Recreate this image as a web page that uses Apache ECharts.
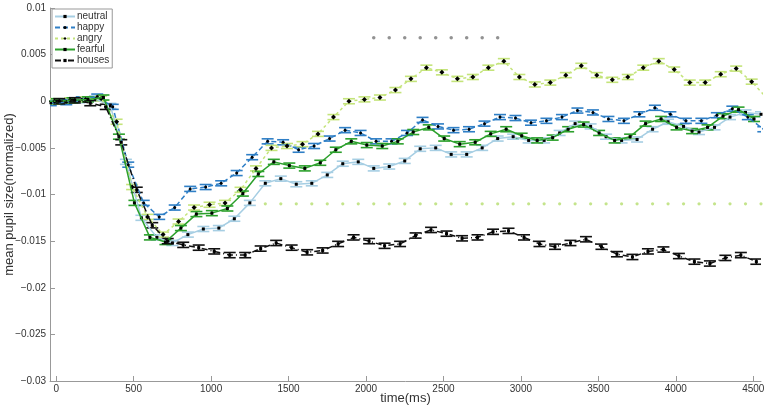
<!DOCTYPE html>
<html><head><meta charset="utf-8">
<script src="https://cdn.jsdelivr.net/npm/echarts@6/dist/echarts.min.js"></script>
<style>html,body{margin:0;padding:0;background:#fff}#c{width:767px;height:412px}</style>
</head><body><div id="c"></div>
<script>
// bin start times (ms); each condition is plotted with its own small time offset
const binStart = [-100,0,100,200,300,400,500,600,700,800,900,1000,1100,1200,1300,1400,1500,1600,1700,1800,1900,2000,2100,2200,2300,2400,2500,2600,2700,2800,2900,3000,3100,3200,3300,3400,3500,3600,3700,3800,3900,4000,4100,4200,4300,4400,4500];
const offsetNeutral = 50, offsetHappy = 65, offsetAngry = 90, offsetFearful = 5, offsetHouses = 20;

const neutral = [0.0000,0.0000,0.0001,0.0003,-0.0005,-0.0065,-0.0125,-0.0146,-0.0152,-0.0143,-0.0137,-0.0136,-0.0126,-0.0109,-0.0088,-0.0083,-0.0089,-0.0088,-0.0079,-0.0067,-0.0065,-0.0072,-0.0070,-0.0064,-0.0051,-0.0050,-0.0057,-0.0057,-0.0050,-0.0040,-0.0038,-0.0042,-0.0042,-0.0034,-0.0024,-0.0027,-0.0038,-0.0042,-0.0041,-0.0030,-0.0022,-0.0027,-0.0033,-0.0028,-0.0017,-0.0012,-0.0014];
const happy = [-0.0002,-0.0001,0.0002,0.0005,-0.0006,-0.0068,-0.0109,-0.0124,-0.0114,-0.0094,-0.0092,-0.0088,-0.0077,-0.0060,-0.0043,-0.0044,-0.0052,-0.0048,-0.0040,-0.0031,-0.0034,-0.0043,-0.0043,-0.0034,-0.0020,-0.0027,-0.0031,-0.0030,-0.0024,-0.0017,-0.0018,-0.0023,-0.0021,-0.0017,-0.0010,-0.0012,-0.0019,-0.0021,-0.0014,-0.0007,-0.0014,-0.0021,-0.0021,-0.0015,-0.0008,-0.0017,-0.0030];
const angry = [0.0000,0.0001,0.0002,0.0003,-0.0022,-0.0092,-0.0124,-0.0143,-0.0129,-0.0114,-0.0111,-0.0109,-0.0095,-0.0072,-0.0050,-0.0048,-0.0046,-0.0035,-0.0017,0.0000,0.0002,0.0004,0.0012,0.0024,0.0036,0.0031,0.0024,0.0026,0.0036,0.0043,0.0026,0.0018,0.0020,0.0028,0.0038,0.0028,0.0023,0.0026,0.0036,0.0043,0.0034,0.0020,0.0020,0.0029,0.0035,0.0021,0.0003];
const fearful = [0.0000,0.0000,0.0001,0.0002,0.0004,-0.0038,-0.0109,-0.0146,-0.0151,-0.0136,-0.0121,-0.0120,-0.0115,-0.0099,-0.0078,-0.0065,-0.0069,-0.0072,-0.0066,-0.0052,-0.0043,-0.0047,-0.0048,-0.0043,-0.0033,-0.0028,-0.0040,-0.0046,-0.0044,-0.0035,-0.0030,-0.0037,-0.0042,-0.0039,-0.0030,-0.0025,-0.0034,-0.0042,-0.0038,-0.0024,-0.0019,-0.0028,-0.0032,-0.0028,-0.0016,-0.0009,-0.0019];
const houses = [0.0000,0.0000,0.0001,-0.0002,-0.0006,-0.0044,-0.0095,-0.0133,-0.0150,-0.0154,-0.0157,-0.0161,-0.0165,-0.0165,-0.0158,-0.0152,-0.0157,-0.0162,-0.0160,-0.0153,-0.0146,-0.0150,-0.0155,-0.0153,-0.0144,-0.0138,-0.0142,-0.0147,-0.0146,-0.0140,-0.0139,-0.0146,-0.0153,-0.0156,-0.0152,-0.0148,-0.0156,-0.0164,-0.0167,-0.0161,-0.0159,-0.0166,-0.0172,-0.0174,-0.0168,-0.0165,-0.0172];

// half-height of the error bars (SEM)
const errNeutral = 0.00027, errHappy = 0.00027, errAngry = 0.00027, errFearful = 0.00027, errHouses = 0.00028;

// significance markers
const starTimes = [2050,2150,2250,2350,2450,2550,2650,2750,2850];
const starLevel = 0.0068;
const sigTimes = [1350,1450,1550,1650,1750,1850,1950,2050,2150,2250,2350,2450,2550,2650,2750,2850,2950,3050,3150,3250,3350,3450,3550,3650,3750,3850,3950,4050,4150,4250,4350,4450,4550];
const sigLevel = -0.011;

const xTicks = [0,500,1000,1500,2000,2500,3000,3500,4000,4500];

const FONT = 'Liberation Sans, Arial, sans-serif';

function pairs(vals, off){ return vals.map((v,i)=>[binStart[i]+off, v]); }

function errRender(err, color){
  return function(params, api){
    const x = api.value(0), y = api.value(1);
    const c = api.coord([x,y]);
    const t = api.coord([x,y+err]), b = api.coord([x,y-err]);
    const st = {stroke: color, lineWidth: 1.6, fill: null};
    const h = 6;
    return {type:'group', children:[
      {type:'line', shape:{x1:c[0]-h,y1:t[1],x2:c[0]+h,y2:t[1]}, style:st},
      {type:'line', shape:{x1:c[0]-h,y1:b[1],x2:c[0]+h,y2:b[1]}, style:st},
      {type:'line', shape:{x1:c[0],y1:t[1],x2:c[0],y2:b[1]}, style:st}
    ]};
  };
}

const defs = [
  {name:'neutral', vals:neutral, off:offsetNeutral, err:errNeutral, color:'#a6cee3', dash:'solid', sym:'rect', ss:3},
  {name:'happy', vals:happy, off:offsetHappy, err:errHappy, color:'#2f7fc6', dash:[5,3], sym:'circle', ss:3},
  {name:'angry', vals:angry, off:offsetAngry, err:errAngry, color:'#c4e47a', dash:[3,3], sym:'diamond', ss:5},
  {name:'fearful', vals:fearful, off:offsetFearful, err:errFearful, color:'#2ca02c', dash:'solid', sym:'rect', ss:3},
  {name:'houses', vals:houses, off:offsetHouses, err:errHouses, color:'#111111', dash:[6,3,1,3], sym:'rect', ss:3}
];

const series = [];
defs.forEach((d, i) => {
  const data = pairs(d.vals, d.off);
  series.push({
    name: d.name + '_err', type:'custom', data: data, clip: true, z: 2 + i*0.01,
    encode:{x:0, y:1}, renderItem: errRender(d.err, d.color), silent:true
  });
});
defs.forEach((d, i) => {
  series.push({
    name: d.name, type:'line', data: pairs(d.vals, d.off), clip: true, z: 3 + i*0.01,
    color: d.color,
    symbol: d.sym, symbolSize: d.ss, showSymbol: true,
    itemStyle:{color:'#000'},
    lineStyle:{color:d.color, width:1.5, type:d.dash},
    emphasis:{disabled:true}
  });
});
series.push({
  name:'stars', type:'scatter', data: starTimes.map(t=>[t, starLevel]), symbol:'circle', symbolSize:3.5,
  itemStyle:{color:'#777'}, z:4
});
series.push({
  name:'sig', type:'scatter', data: sigTimes.map(t=>[t, sigLevel]), symbol:'circle', symbolSize:3.2,
  itemStyle:{color:'#b5dd6e'}, z:1
});

const chart = echarts.init(document.getElementById('c'), null, {renderer:'canvas'});
chart.setOption({
  animation:false,
  backgroundColor:'#fff',
  textStyle:{fontFamily:FONT},
  grid:{left:50, right:6, top:8, bottom:31, containLabel:false, outerBoundsMode:'none'},
  legend:{
    data:['neutral','happy','angry','fearful','houses'],
    orient:'vertical', left:52, top:9,
    itemWidth:20, itemHeight:4, itemGap:0,
    padding:[2,3,2,2],
    borderColor:'#999', borderWidth:1, backgroundColor:'#fff',
    textStyle:{fontSize:10, color:'#333', fontFamily:FONT, lineHeight:11, padding:[0,0,0,-3]}
  },
  xAxis:{
    type:'value', min:-40, max:4550,
    name:'time(ms)', nameLocation:'middle', nameGap:11, nameMoveOverlap:false,
    nameTextStyle:{fontSize:13, color:'#333', fontFamily:FONT, verticalAlign:'top'},
    axisLine:{show:true, onZero:false, lineStyle:{color:'#999', width:1}},
    axisTick:{show:true, inside:true, length:5, customValues:xTicks, lineStyle:{color:'#999'}},
    axisLabel:{customValues:xTicks, fontSize:10, color:'#333', margin:3, fontFamily:FONT,
      formatter: v => String(v)},
    splitLine:{show:false}
  },
  yAxis:{
    type:'value', min:-0.03, max:0.01, interval:0.005,
    name:'mean pupil size(normalized)', nameLocation:'middle', nameGap:34, nameMoveOverlap:false,
    nameTextStyle:{fontSize:13, color:'#333', fontFamily:FONT},
    axisLine:{show:true, onZero:false, lineStyle:{color:'#999', width:1}},
    axisTick:{show:true, inside:true, length:5, lineStyle:{color:'#999'}},
    axisLabel:{fontSize:10, color:'#333', margin:4, fontFamily:FONT,
      formatter: v => { const r = +v.toFixed(4); return r === 0 ? '0' : String(r).replace('-', '\u2212'); }},
    splitLine:{show:false}
  },
  series: series
});
</script>
</body></html>
